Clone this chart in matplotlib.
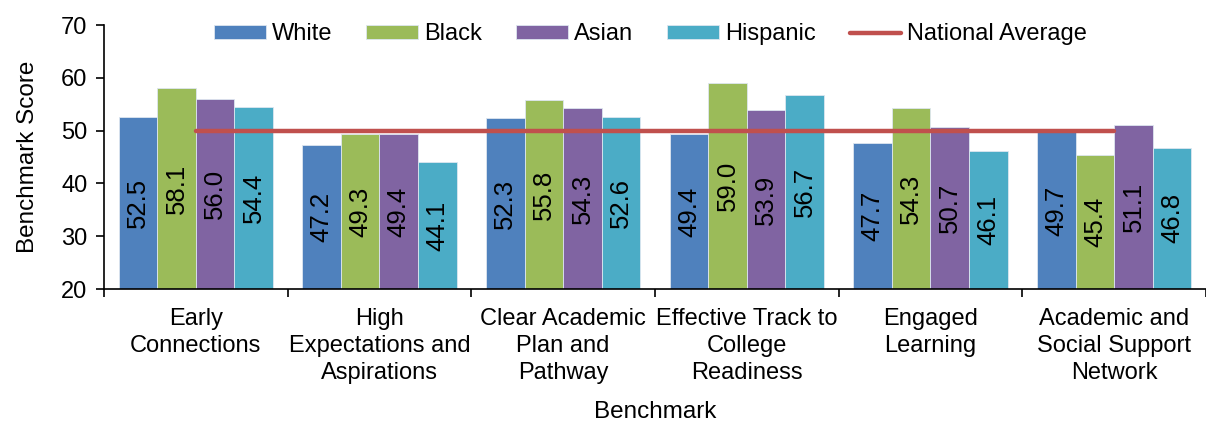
import numpy as np
import matplotlib.pyplot as plt

plt.rcParams['font.family'] = ['Liberation Sans', 'DejaVu Sans']

benchmarks = ["Early\nConnections", "High\nExpectations and\nAspirations",
              "Clear Academic\nPlan and\nPathway", "Effective Track to\nCollege\nReadiness",
              "Engaged\nLearning", "Academic and\nSocial Support\nNetwork"]
groups = ["White", "Black", "Asian", "Hispanic"]
white = [52.5, 47.2, 52.3, 49.4, 47.7, 49.7]
black = [58.1, 49.3, 55.8, 59.0, 54.3, 45.4]
asian = [56.0, 49.4, 54.3, 53.9, 50.7, 51.1]
hispanic = [54.4, 44.1, 52.6, 56.7, 46.1, 46.8]
national_avg = [50, 50, 50, 50, 50, 50]

colors = ["#4F81BD", "#9BBB59", "#8064A2", "#4BACC6"]
line_color = "#C0504D"

fig = plt.figure(figsize=(12.06, 4.21), dpi=100)
ax = fig.add_axes([0.0862, 0.3135, 0.9138, 0.6271])

x = np.arange(len(benchmarks))
w = 0.21
series = [white, black, asian, hispanic]
handles = []
for i, (vals, name) in enumerate(zip(series, groups)):
    pos = x + (i - 1.5) * w
    bars = ax.bar(pos, vals, w, bottom=0, color=colors[i], edgecolor="#dde6f0",
                  linewidth=0.6, label=name)
    handles.append(bars)
    for p, v in zip(pos, vals):
        ax.text(p, (20 + v) / 2, f"{v:.1f}", rotation=90, ha="center", va="center",
                fontsize=18.5, color="black")

ln, = ax.plot(x, national_avg, color=line_color, lw=3.2, solid_capstyle="round",
              label="National Average", zorder=5)
handles.append(ln)

ax.set_ylim(20, 70)
ax.set_yticks(range(20, 71, 10))
ax.set_xlim(-0.5, 5.437)
ax.set_xticks(np.arange(-0.5, 6, 1))
ax.set_xticklabels([])
ax.set_xticks(x, minor=True)
ax.set_xticklabels(benchmarks, minor=True, fontsize=17, linespacing=1.28)
ax.tick_params(axis="x", which="minor", length=0, pad=14)
ax.tick_params(axis="x", which="major", length=6, width=1.2, direction="out")
ax.tick_params(axis="y", length=6, width=1.2, direction="out", labelsize=17, pad=6)
for s in ["top", "right"]:
    ax.spines[s].set_visible(False)
for s in ["left", "bottom"]:
    ax.spines[s].set_linewidth(1.2)

ax.set_ylabel("Benchmark Score", fontsize=17.5, labelpad=16)
ax.set_xlabel("Benchmark", fontsize=17.5, labelpad=12)

ax.legend(handles=handles, loc="center", bbox_to_anchor=(0.496, 0.965), ncol=5,
          frameon=False, fontsize=17, handlelength=2.2, handleheight=0.55,
          columnspacing=1.44, handletextpad=0.25, borderaxespad=0, borderpad=0)

fig.savefig("out.png", dpi=100)
